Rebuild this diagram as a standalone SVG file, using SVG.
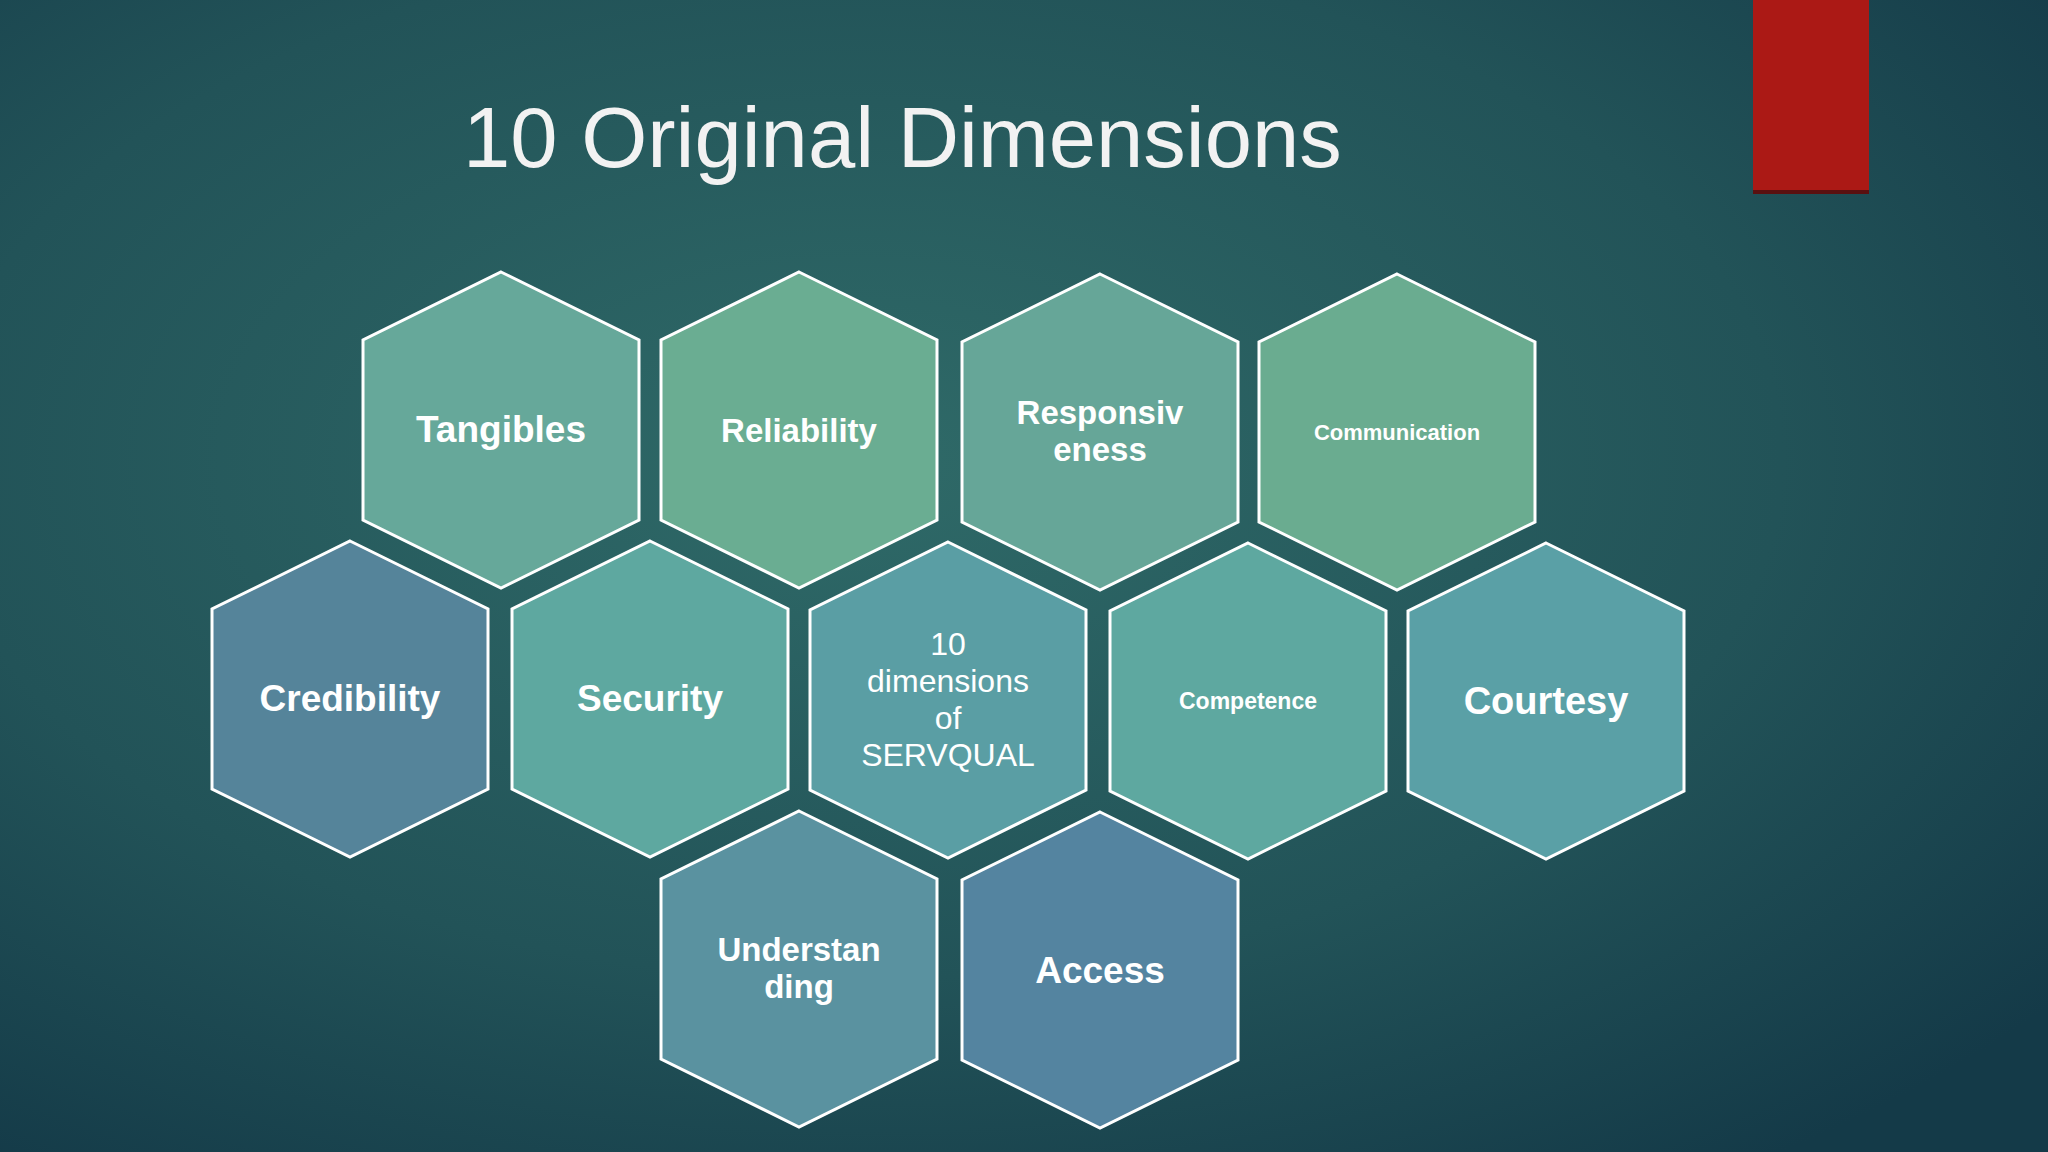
<svg xmlns="http://www.w3.org/2000/svg" width="2048" height="1152" viewBox="0 0 2048 1152">
<defs>
<radialGradient id="bg" cx="0.42" cy="0.4" r="0.75">
<stop offset="0" stop-color="#2f6a68"/><stop offset="0.6" stop-color="#225358"/><stop offset="1" stop-color="#143a48"/>
</radialGradient>
<polygon id="hx" points="0,-158 138,-90 138,90 0,158 -138,90 -138,-90"/>
</defs>
<style>
.h{stroke:#fff;stroke-width:3}
.t{font-family:"Liberation Sans",Arial,sans-serif;font-weight:bold;fill:#fff;text-anchor:middle}
.r{font-family:"Liberation Sans",Arial,sans-serif;fill:#fff;text-anchor:middle}
</style>
<rect width="2048" height="1152" fill="url(#bg)"/>
<rect x="1753" y="0" width="116" height="192" fill="#ab1915"/>
<rect x="1753" y="190" width="116" height="4" fill="#5a1010"/>
<text x="463" y="167" font-family="'Liberation Sans',Arial,sans-serif" font-size="85" fill="#f2f2f2">10 Original Dimensions</text>
<g id="tangibles"><use href="#hx" x="501" y="430" class="h" fill="#66a89a"/><text class="t" x="501" y="442" font-size="37">Tangibles</text></g>
<g id="reliability"><use href="#hx" x="799" y="430" class="h" fill="#6aad92"/><text class="t" x="799" y="442" font-size="33">Reliability</text></g>
<g id="responsiveness"><use href="#hx" x="1100" y="432" class="h" fill="#66a698"/><text class="t" x="1100" y="424" font-size="33">Responsiv</text><text class="t" x="1100" y="461" font-size="33">eness</text></g>
<g id="communication"><use href="#hx" x="1397" y="432" class="h" fill="#6aac90"/><text class="t" x="1397" y="440" font-size="22">Communication</text></g>
<g id="credibility"><use href="#hx" x="350" y="699" class="h" fill="#55849a"/><text class="t" x="350" y="711" font-size="37">Credibility</text></g>
<g id="security"><use href="#hx" x="650" y="699" class="h" fill="#5ea8a0"/><text class="t" x="650" y="711" font-size="37">Security</text></g>
<g id="center"><use href="#hx" x="948" y="700" class="h" fill="#5a9ea4"/><text class="r" x="948" y="655" font-size="32">10</text><text class="r" x="948" y="692" font-size="32">dimensions</text><text class="r" x="948" y="729" font-size="32">of</text><text class="r" x="948" y="766" font-size="32">SERVQUAL</text></g>
<g id="competence"><use href="#hx" x="1248" y="701" class="h" fill="#5ea8a0"/><text class="t" x="1248" y="709" font-size="23">Competence</text></g>
<g id="courtesy"><use href="#hx" x="1546" y="701" class="h" fill="#5aa0a6"/><text class="t" x="1546" y="714" font-size="38">Courtesy</text></g>
<g id="understanding"><use href="#hx" x="799" y="969" class="h" fill="#5a92a0"/><text class="t" x="799" y="961" font-size="33">Understan</text><text class="t" x="799" y="998" font-size="33">ding</text></g>
<g id="access"><use href="#hx" x="1100" y="970" class="h" fill="#5484a0"/><text class="t" x="1100" y="983" font-size="37">Access</text></g>
<g id="connectors"/>
</svg>
